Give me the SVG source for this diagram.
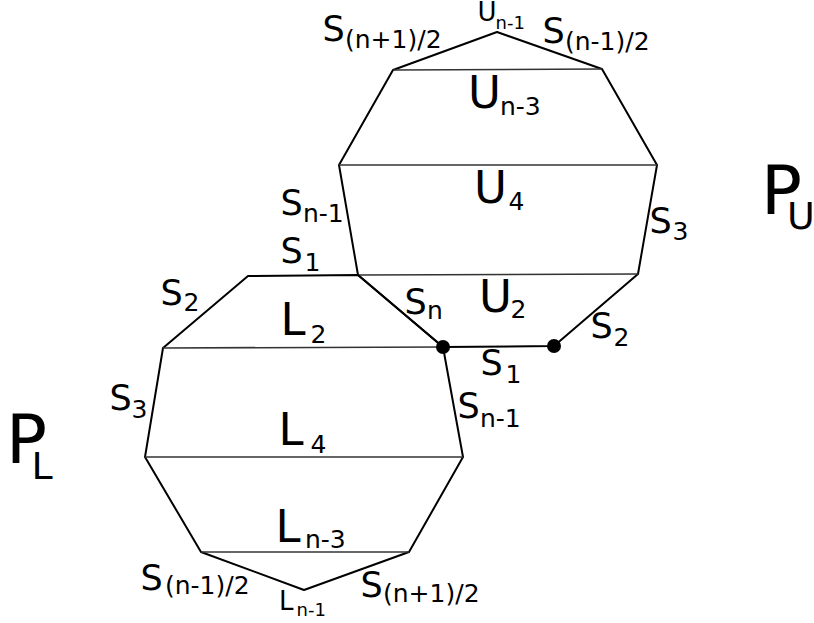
<svg xmlns="http://www.w3.org/2000/svg" width="814" height="623" viewBox="0 0 814 623">
<style>
.edge{fill:none;stroke:#000;stroke-width:2;stroke-linejoin:round;stroke-linecap:round}
.chord{fill:none;stroke:#333;stroke-width:1.6}
.dot{fill:#000}
text{font-family:"DejaVu Sans","Liberation Sans",sans-serif;fill:#000}
.big{font-size:45px}
.bs{font-size:25px}
.s{font-size:35px}
.ss{font-size:25px}
.sm{font-size:26px}
.sms{font-size:18px}
.p{font-size:68px}
.ps{font-size:38px}
</style>
<rect width="814" height="623" fill="#fff"/>
<g id="PU">
<polygon class="edge" points="443,347 358,275 339,165 393,70 497,32 602,69 657,165 638,274 554,346"/>
<line class="chord" x1="393" y1="70" x2="602" y2="69"/>
<line class="chord" x1="339" y1="165" x2="657" y2="165"/>
<line class="chord" x1="358" y1="275" x2="638" y2="274"/>
</g>
<g id="PL">
<polygon class="edge" points="358,275 248,276 163,348 145,457 201,552 304,590 409,552 463,457 443,347"/>
<line class="chord" x1="163" y1="348" x2="443" y2="347"/>
<line class="chord" x1="145" y1="457" x2="463" y2="457"/>
<line class="chord" x1="201" y1="552" x2="409" y2="552"/>
</g>
<g id="dots">
<circle class="dot" cx="443" cy="347" r="7"/>
<circle class="dot" cx="554" cy="346" r="7"/>
</g>
<g id="labels">
<text class="s" x="322.5" y="41">S<tspan class="ss" x="345" y="48">(n+1)/2</tspan></text>
<text class="sm" x="477.5" y="21">U<tspan class="sms" x="495.5" y="29">n-1</tspan></text>
<text class="s" x="542.5" y="43">S<tspan class="ss" x="565" y="50">(n-1)/2</tspan></text>
<text class="big" x="468" y="108">U<tspan class="bs" x="500" y="115">n-3</tspan></text>
<text class="big" x="474" y="203">U<tspan class="bs" x="508.5" y="210">4</tspan></text>
<text class="s" x="280.5" y="215">S<tspan class="ss" x="303" y="222">n-1</tspan></text>
<text class="s" x="649.5" y="233">S<tspan class="ss" x="672.5" y="240">3</tspan></text>
<text class="s" x="280.5" y="263">S<tspan class="ss" x="304.5" y="271">1</tspan></text>
<text class="s" x="404.5" y="314">S<tspan class="ss" x="427" y="319">n</tspan></text>
<text class="big" x="479" y="312">U<tspan class="bs" x="510.5" y="318">2</tspan></text>
<text class="s" x="590.5" y="338">S<tspan class="ss" x="613.5" y="346">2</tspan></text>
<text class="big" x="280.5" y="335">L<tspan class="bs" x="310.5" y="343">2</tspan></text>
<text class="s" x="480.5" y="375">S<tspan class="ss" x="505.5" y="383">1</tspan></text>
<text class="s" x="160.5" y="305">S<tspan class="ss" x="183.5" y="311">2</tspan></text>
<text class="s" x="109.5" y="410">S<tspan class="ss" x="131.5" y="418">3</tspan></text>
<text class="s" x="457.5" y="418">S<tspan class="ss" x="480" y="427">n-1</tspan></text>
<text class="big" x="278.5" y="445">L<tspan class="bs" x="310.5" y="453">4</tspan></text>
<text class="big" x="275.5" y="542">L<tspan class="bs" x="305" y="548">n-3</tspan></text>
<text class="s" x="140.5" y="590">S<tspan class="ss" x="165" y="594">(n-1)/2</tspan></text>
<text class="sm" x="279" y="610">L<tspan class="sms" x="296.5" y="616">n-1</tspan></text>
<text class="s" x="360.5" y="597">S<tspan class="ss" x="383" y="602">(n+1)/2</tspan></text>
<text class="p" x="6" y="463">P<tspan class="ps" x="31.5" y="479">L</tspan></text>
<text class="p" x="761" y="214">P<tspan class="ps" x="787" y="229">U</tspan></text>
</g>
</svg>
